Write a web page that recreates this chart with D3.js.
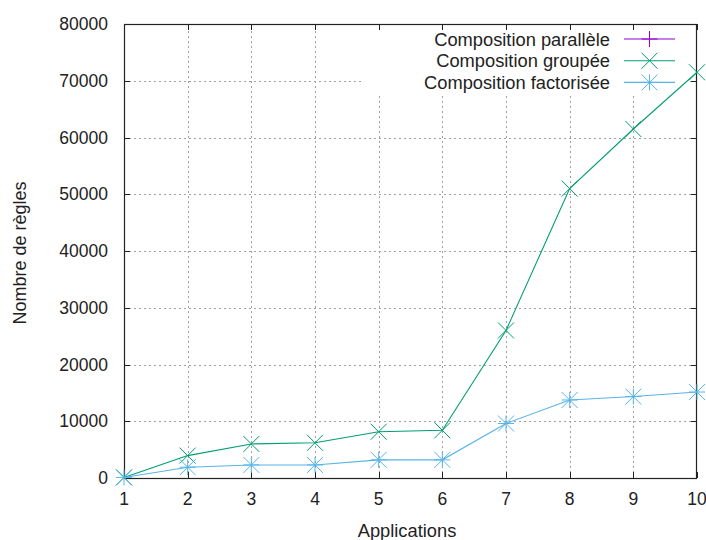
<!DOCTYPE html>
<html>
<head>
<meta charset="utf-8">
<script src="https://cdn.jsdelivr.net/npm/d3@7"></script>
<style>
  html, body { margin: 0; padding: 0; background: #fff; }
  svg { display: block; }
  text { font-family: "Liberation Sans", Arial, sans-serif; fill: #222; }
</style>
</head>
<body>
<svg id="chart" width="706" height="540"></svg>
<script>
// Nombre de règles par application
const applications = [1, 2, 3, 4, 5, 6, 7, 8, 9, 10];
const paralleleValues = [];
const groupeeValues = [100, 3950, 6000, 6200, 8150, 8400, 26000, 51000, 61500, 71500];
const factoriseeValues = [100, 1900, 2300, 2300, 3200, 3200, 9600, 13750, 14350, 15150];
const yTicks = [0, 10000, 20000, 30000, 40000, 50000, 60000, 70000, 80000];
const seriesNames = ["Composition parallèle", "Composition groupée", "Composition factorisée"];
const seriesColors = ["#9400d3", "#009e73", "#56b4e9"];
const seriesMarkers = ["plus", "cross", "star"];

const W = 706, H = 540;
const m = { left: 124, right: 9, top: 24, bottom: 62 };
const svg = d3.select("#chart");

const x = d3.scaleLinear().domain([1, 10]).range([m.left, W - m.right]);
const y = d3.scaleLinear().domain([0, 80000]).range([H - m.bottom, m.top]);

const x0 = x.range()[0], x1 = x.range()[1], y0 = y.range()[0], y1 = y.range()[1];

// Grille pointillée
const grid = svg.append("g").attr("stroke", "#a0a0a0").attr("stroke-width", 1)
  .attr("stroke-dasharray", "2,3");
grid.selectAll(".gx").data(applications.slice(1, -1)).join("line")
  .attr("x1", d => Math.round(x(d)) + 0.5).attr("x2", d => Math.round(x(d)) + 0.5)
  .attr("y1", y0).attr("y2", y1);
grid.selectAll(".gy").data(yTicks.slice(1, -1)).join("line")
  .attr("y1", d => Math.round(y(d)) + 0.5).attr("y2", d => Math.round(y(d)) + 0.5)
  .attr("x1", x0).attr("x2", x1);

// Fond de la légende (masque la grille)
const legendX = 610;     // fin du texte
const legendLine = [624, 675];
const legendY0 = 39, legendDy = 21.7;
svg.append("rect").attr("x", 362).attr("y", y1 + 3).attr("width", 328).attr("height", 68)
  .attr("fill", "#fff");

// Axes (graduations intérieures + miroir)
const axisG = svg.append("g").attr("stroke", "#222").attr("stroke-width", 1);
const tl = 6;
axisG.selectAll(".tx").data(applications).join("g").each(function(d) {
  const xx = Math.round(x(d)) + 0.5;
  d3.select(this).append("line").attr("x1", xx).attr("x2", xx).attr("y1", y0).attr("y2", y0 - tl);
  d3.select(this).append("line").attr("x1", xx).attr("x2", xx).attr("y1", y1).attr("y2", y1 + tl);
});
axisG.selectAll(".ty").data(yTicks).join("g").each(function(d) {
  const yy = Math.round(y(d)) + 0.5;
  d3.select(this).append("line").attr("y1", yy).attr("y2", yy).attr("x1", x0).attr("x2", x0 + tl);
  d3.select(this).append("line").attr("y1", yy).attr("y2", yy).attr("x1", x1).attr("x2", x1 - tl);
});
svg.append("rect").attr("x", x0 + 0.5).attr("y", y1 + 0.5)
  .attr("width", x1 - x0 - 1).attr("height", y0 - y1)
  .attr("fill", "none").attr("stroke", "#222").attr("stroke-width", 1.2);

// Libellés des graduations
svg.append("g").selectAll("text").data(applications).join("text")
  .attr("x", d => x(d)).attr("y", y0 + 27)
  .attr("text-anchor", "middle").attr("font-size", 17.5).text(d => d);
svg.append("g").selectAll("text").data(yTicks).join("text")
  .attr("x", 108).attr("y", d => y(d) + 6)
  .attr("text-anchor", "end").attr("font-size", 17.5).text(d => d);

// Titres des axes
svg.append("text").attr("x", 407).attr("y", 537).attr("text-anchor", "middle")
  .attr("font-size", 18.3).text("Applications");
svg.append("text").attr("transform", "translate(26,253) rotate(-90)")
  .attr("text-anchor", "middle").attr("font-size", 18).text("Nombre de règles");

// Symboles
function marker(g, type, cx, cy, color, r) {
  const s = g.append("g").attr("stroke", color).attr("stroke-width", 1).attr("fill", "none");
  if (type === "plus" || type === "star") {
    s.append("line").attr("x1", cx - r).attr("x2", cx + r).attr("y1", cy).attr("y2", cy);
    s.append("line").attr("x1", cx).attr("x2", cx).attr("y1", cy - r).attr("y2", cy + r);
  }
  if (type === "cross" || type === "star") {
    s.append("line").attr("x1", cx - r).attr("x2", cx + r).attr("y1", cy - r).attr("y2", cy + r);
    s.append("line").attr("x1", cx - r).attr("x2", cx + r).attr("y1", cy + r).attr("y2", cy - r);
  }
}

const allSeries = [paralleleValues, groupeeValues, factoriseeValues];
const line = d3.line().x((d, i) => x(applications[i])).y(d => y(d));
allSeries.forEach((vals, k) => {
  if (!vals.length) return;
  const g = svg.append("g");
  g.append("path").datum(vals).attr("d", line)
    .attr("fill", "none").attr("stroke", seriesColors[k]).attr("stroke-width", 1.1);
  vals.forEach((v, i) => marker(g, seriesMarkers[k], x(applications[i]), y(v), seriesColors[k], 8));
});

// Légende
seriesNames.forEach((name, k) => {
  const ly = legendY0 + k * legendDy;
  svg.append("text").attr("x", legendX).attr("y", ly + 6.5).attr("text-anchor", "end")
    .attr("font-size", 18.3).text(name);
  svg.append("line").attr("x1", legendLine[0]).attr("x2", legendLine[1])
    .attr("y1", ly).attr("y2", ly).attr("stroke", seriesColors[k]).attr("stroke-width", 1.1);
  marker(svg, seriesMarkers[k], (legendLine[0] + legendLine[1]) / 2, ly, seriesColors[k], 8);
});
</script>
</body>
</html>
